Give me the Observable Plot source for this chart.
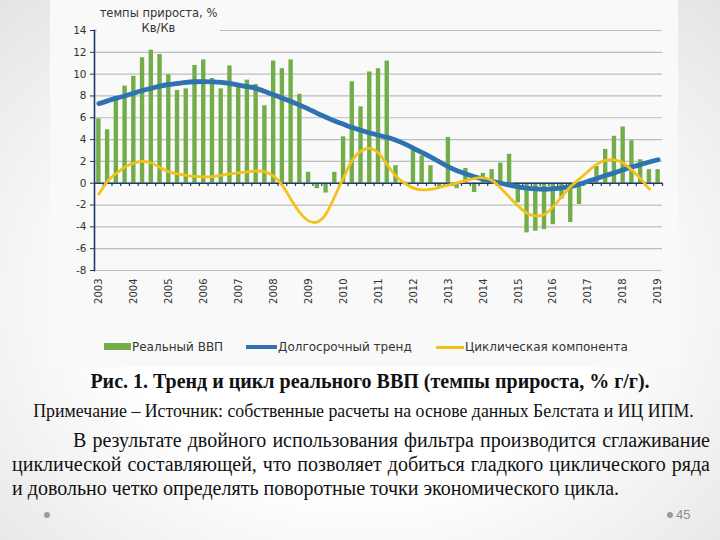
<!DOCTYPE html>
<html><head><meta charset="utf-8">
<script src="https://cdn.jsdelivr.net/npm/d3@7"></script>
<script src="https://cdn.jsdelivr.net/npm/@observablehq/plot@0.6"></script>
<style>
html,body{margin:0;padding:0;}
#slide{position:relative;width:720px;height:540px;overflow:hidden;
 background:radial-gradient(ellipse 75% 80% at 50% 55%, #ffffff 45%, #e2e2e2 100%);}
#chartbox{position:absolute;left:50px;top:0;width:628px;height:367px;background:#f9f9f9;}
#plot{position:absolute;left:0;top:0;}
#ttl{position:absolute;left:97px;top:6px;width:123px;height:33px;background:#f9f9f9;
 font:11.5px "DejaVu Sans",sans-serif;color:#333;text-align:center;line-height:15px;}
#legend{position:absolute;top:339px;left:0;width:720px;height:16px;font:12px "DejaVu Sans",sans-serif;color:#333;}
.li{position:absolute;top:0;line-height:16px;white-space:nowrap;}
.sw{position:absolute;}
.serif{font-family:"Liberation Serif","Times New Roman",serif;color:#111;position:absolute;white-space:nowrap;}
#cap1{top:369px;left:0;width:740px;text-align:center;font-weight:bold;font-size:20px;line-height:24px;}
#cap2{top:400px;left:0;width:727px;text-align:center;font-size:17.8px;line-height:22px;}
.bl{font-family:"Liberation Serif","Times New Roman",serif;font-size:20px;line-height:24px;text-align:justify;text-align-last:justify;color:#111;position:absolute;white-space:nowrap;}
#num{position:absolute;left:676px;top:507px;font:13px "Liberation Sans",sans-serif;color:#8c8c8c;}
.dot{position:absolute;width:6px;height:6px;border-radius:3px;background:#9a9a9a;}
</style></head>
<body>
<div id="slide">
 <div id="chartbox"></div>
 <div id="plot"></div>
 <div id="ttl"></div>
 <div id="legend"></div>
 <div id="cap1" class="serif"></div>
 <div id="cap2" class="serif"></div>
 <div id="body"></div>
 <div class="dot" style="left:44px;top:512px"></div>
 <div class="dot" style="left:667px;top:512px"></div>
 <div id="num">45</div>
</div>
<script>
// ---- data (quarterly, 2003Q1 .. 2019Q1) ----
const years = [2003,2004,2005,2006,2007,2008,2009,2010,2011,2012,2013,2014,2015,2016,2017,2018,2019];
const gdp = [5.9,4.9,7.75,8.9, 9.8,11.5,12.2,11.8, 9.95,8.5,8.65,10.8, 11.3,9.6,8.65,10.75,
  9.0,9.45,9.05,7.1, 11.2,10.5,11.3,8.15, 1.0,-0.5,-0.9,1.0, 4.25,9.3,7.0,10.2,
  10.5,11.2,1.6,0.1, 3.25,2.5,1.6,-0.35, 4.2,-0.5,1.35,-0.85, 0.9,1.25,1.85,2.65,
  -1.8,-4.55,-4.4,-4.25, -3.8,-1.45,-3.6,-1.95, 0.0,1.55,3.1,4.3, 5.15,3.9,2.15,1.25, 1.25];
const trend = [7.3,7.55,7.8,8.0, 8.25,8.5,8.7,8.9, 9.05,9.15,9.25,9.3, 9.32,9.3,9.25,9.15,
  9.0,8.85,8.7,8.4, 8.1,7.8,7.5,7.15, 6.8,6.4,6.05,5.7, 5.4,5.1,4.85,4.6,
  4.4,4.2,3.95,3.6, 3.2,2.8,2.4,1.95, 1.5,1.15,0.85,0.6, 0.38,0.18,0.0,-0.18,
  -0.34,-0.45,-0.52,-0.55, -0.5,-0.42,-0.3,-0.08, 0.18,0.43,0.7,0.95, 1.22,1.48,1.72,1.95, 2.15];
const cycle = [-1.0,0.2,0.9,1.5, 1.85,2.0,1.85,1.45, 1.05,0.85,0.72,0.62, 0.58,0.6,0.72,0.85,
  0.95,1.05,1.12,1.05, 0.65,-0.2,-1.5,-2.7, -3.45,-3.55,-2.8,-1.2, 0.5,2.1,2.95,3.2,
  2.75,1.7,0.65,0.0, -0.45,-0.6,-0.57,-0.38, -0.17,0.04,0.24,0.45, 0.5,0.25,-0.45,-1.3,
  -2.1,-2.75,-3.0,-2.85, -2.15,-1.2,-0.3,0.4, 1.1,1.75,2.1,2.15, 1.85,1.2,0.4,-0.55];
const yTicks = [-8,-6,-4,-2,0,2,4,6,8,10,12,14];
const seriesNames = ["Реальный ВВП","Долгосрочный тренд","Циклическая компонента"];
const axisTitle = ["темпы прироста, %","Кв/Кв"];
const caption1 = "Рис. 1. Тренд и цикл реального ВВП (темпы прироста, % г/г).";
const caption2 = "Примечание – Источник: собственные расчеты на основе данных Белстата и ИЦ ИПМ.";
const bodyLines = ["В результате двойного использования фильтра производится сглаживание",
  "циклической составляющей, что позволяет добиться гладкого циклического ряда",
  "и довольно четко определять поворотные точки экономического цикла."];

const GREEN="#72ad4a", BLUE="#2e72b0", YELLOW="#f2c21b", NAVY="#1f3a68";
const rows = gdp.map((v,i)=>({i, gdp:v, trend:trend[i], cycle: i<cycle.length?cycle[i]:null}));
const yearIdx = years.map((y,k)=>k*4);
const between = gdp.map((v,i)=>i+0.5);

const chart = Plot.plot({
  width:720, height:310, marginLeft:94, marginRight:58, marginTop:30, marginBottom:40,
  style:{background:"transparent", fontFamily:"DejaVu Sans, sans-serif"},
  x:{type:"linear", domain:[-0.5, gdp.length-0.5]},
  y:{domain:[-8,14]},
  marks:[
    Plot.gridY(yTicks,{stroke:"#bdbdbd", strokeOpacity:1, strokeWidth:1.2}),
    Plot.rectY(rows,{x1:d=>d.i-0.25, x2:d=>d.i+0.25, y:"gdp", fill:GREEN}),
    Plot.ruleY([0],{stroke:NAVY, strokeWidth:1.6}),
    Plot.ruleX(between,{x:d=>d, y1:0, y2:-0.3, stroke:NAVY, strokeWidth:1.2}),
    Plot.frame({anchor:"left", stroke:NAVY, strokeWidth:1.6}),
    Plot.line(rows,{x:"i", y:"trend", stroke:BLUE, strokeWidth:4.8, curve:"natural"}),
    Plot.line(rows.filter(d=>d.cycle!=null),{x:"i", y:"cycle", stroke:YELLOW, strokeWidth:2.8, curve:"natural"}),
    Plot.axisY(yTicks,{tickSize:4, stroke:NAVY, fill:"#333", fontSize:10.5, tickPadding:4, label:null, tickFormat:d=>String(d)}),
    Plot.axisX(yearIdx,{tickFormat:(d)=>String(years[d/4]), tickRotate:-90, tickSize:0, tickPadding:8, fontSize:10, fill:"#333", label:null})
  ]
});
document.getElementById("plot").appendChild(chart);

document.getElementById("ttl").innerHTML = axisTitle.join("<br>");
const lg = document.getElementById("legend");
const items = [
  {name:seriesNames[0], sw:{left:104,top:4,width:27,height:7,background:GREEN}, tx:132},
  {name:seriesNames[1], sw:{left:246,top:6,width:31,height:4,background:BLUE}, tx:278},
  {name:seriesNames[2], sw:{left:436,top:7,width:28,height:3,background:YELLOW}, tx:465}
];
items.forEach(it=>{
  const s=document.createElement("div"); s.className="sw";
  Object.entries(it.sw).forEach(([k,v])=>s.style[k]=typeof v==="number"?v+"px":v);
  lg.appendChild(s);
  const t=document.createElement("div"); t.className="li"; t.style.left=it.tx+"px"; t.textContent=it.name;
  lg.appendChild(t);
});
document.getElementById("cap1").textContent = caption1;
document.getElementById("cap2").textContent = caption2;
const body = document.getElementById("body");
const lineGeom = [{left:73,width:637,top:428},{left:12,width:698,top:452},{left:12,width:null,top:476}];
bodyLines.forEach((t,k)=>{
  const d=document.createElement("div"); d.className="bl";
  d.style.left=lineGeom[k].left+"px"; d.style.top=lineGeom[k].top+"px";
  if(lineGeom[k].width){d.style.width=lineGeom[k].width+"px";} else {d.style.textAlignLast="left";}
  d.textContent=t; body.appendChild(d);
});
</script>
</body></html>
